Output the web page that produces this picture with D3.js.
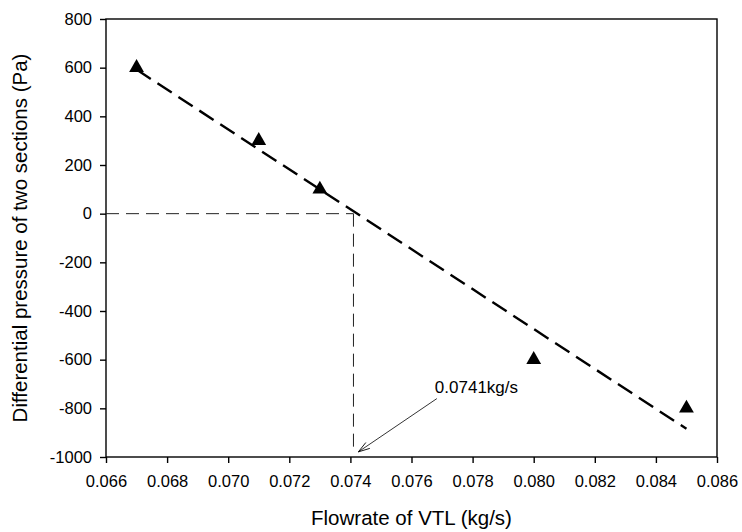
<!DOCTYPE html>
<html>
<head>
  <meta charset="utf-8">
  <script src="https://d3js.org/d3.v7.min.js"></script>
  <style>
    body { margin: 0; background: #fff; }
    text { font-family: Arial, "Liberation Sans", sans-serif; fill: #000; }
  </style>
</head>
<body>
<div id="chart"></div>
<script>
  // measured points
  const flowrate = [0.067, 0.071, 0.073, 0.080, 0.085];
  const pressure = [600, 300, 100, -600, -800];
  // fitted line ends
  const fitLine = [[0.067, 592], [0.085, -884]];
  // crossing marker
  const crossX = 0.0741;
  const crossLabel = '0.0741kg/s';
  const arrowFrom = [0.07683, -760];
  const arrowTo = [0.07426, -979];
  const xTicks = [0.066, 0.068, 0.070, 0.072, 0.074, 0.076, 0.078, 0.080, 0.082, 0.084, 0.086];
  const yTicks = [800, 600, 400, 200, 0, -200, -400, -600, -800, -1000];

  const width = 742, height = 532;
  const margin = { top: 19, right: 25, bottom: 75, left: 106 };
  const font = 'Arial, "Liberation Sans", sans-serif';

  const svg = d3.select('#chart').append('svg')
    .attr('width', width)
    .attr('height', height);

  const x = d3.scaleLinear().domain([0.066, 0.086]).range([margin.left, width - margin.right]);
  const y = d3.scaleLinear().domain([-1000, 800]).range([height - margin.bottom, margin.top]);

  // frame
  svg.append('rect')
    .attr('x', x(0.066)).attr('y', y(800))
    .attr('width', x(0.086) - x(0.066))
    .attr('height', y(-1000) - y(800))
    .attr('fill', 'none').attr('stroke', '#000').attr('stroke-width', 1.4);

  const xAxis = svg.append('g')
    .attr('transform', `translate(0,${y(-1000)})`)
    .call(d3.axisBottom(x).tickValues(xTicks).tickFormat(d3.format('.3f')).tickSizeOuter(0).tickSize(6).tickPadding(12));
  const yAxis = svg.append('g')
    .attr('transform', `translate(${x(0.066)},0)`)
    .call(d3.axisLeft(y).tickValues(yTicks).tickFormat(d => String(d)).tickSizeOuter(0).tickSize(6).tickPadding(8));
  [xAxis, yAxis].forEach(g => {
    g.select('.domain').remove();
    g.selectAll('line').attr('stroke', '#000').attr('stroke-width', 1.4);
    g.selectAll('text').attr('font-size', 16.5).attr('font-family', font);
  });

  // guide lines at the zero crossing
  svg.append('line')
    .attr('x1', x(0.066)).attr('x2', x(crossX))
    .attr('y1', y(0)).attr('y2', y(0))
    .attr('stroke', '#222').attr('stroke-width', 1).attr('stroke-dasharray', '13,7');
  svg.append('line')
    .attr('x1', x(crossX)).attr('x2', x(crossX))
    .attr('y1', y(0)).attr('y2', y(-964))
    .attr('stroke', '#222').attr('stroke-width', 1).attr('stroke-dasharray', '13,7');

  // fitted line
  svg.append('line')
    .attr('x1', x(fitLine[0][0])).attr('y1', y(fitLine[0][1]))
    .attr('x2', x(fitLine[1][0])).attr('y2', y(fitLine[1][1]))
    .attr('stroke', '#000').attr('stroke-width', 2.4).attr('stroke-dasharray', '17,8');

  // points
  const tri = d3.symbol().type(d3.symbolTriangle).size(95);
  svg.selectAll('path.pt').data(flowrate).enter()
    .append('path')
      .attr('class', 'pt')
      .attr('d', tri)
      .attr('transform', (d, i) => `translate(${x(d)},${y(pressure[i])})`)
      .attr('fill', '#000');

  // annotation arrow
  const ax1 = x(arrowFrom[0]), ay1 = y(arrowFrom[1]);
  const ax2 = x(arrowTo[0]), ay2 = y(arrowTo[1]);
  svg.append('line')
    .attr('x1', ax1).attr('y1', ay1).attr('x2', ax2).attr('y2', ay2)
    .attr('stroke', '#000').attr('stroke-width', 0.8);
  const ang = Math.atan2(ay1 - ay2, ax1 - ax2);
  const headLen = 12, spread = 0.3;
  svg.append('path')
    .attr('d', `M${ax2 + headLen * Math.cos(ang - spread)},${ay2 + headLen * Math.sin(ang - spread)}L${ax2},${ay2}L${ax2 + headLen * Math.cos(ang + spread)},${ay2 + headLen * Math.sin(ang + spread)}`)
    .attr('fill', 'none').attr('stroke', '#000').attr('stroke-width', 0.9);
  svg.append('text')
    .attr('x', ax1 - 2).attr('y', ay1 - 5.5)
    .attr('font-size', 17)
    .text(crossLabel);

  // axis titles
  svg.append('text')
    .attr('x', (x(0.066) + x(0.086)) / 2).attr('y', 525)
    .attr('text-anchor', 'middle').attr('font-size', 20.5)
    .text('Flowrate of VTL (kg/s)');
  svg.append('text')
    .attr('transform', `translate(27,${(y(800) + y(-1000)) / 2}) rotate(-90)`)
    .attr('text-anchor', 'middle').attr('font-size', 20.5)
    .text('Differential pressure of two sections (Pa)');
</script>
</body>
</html>
